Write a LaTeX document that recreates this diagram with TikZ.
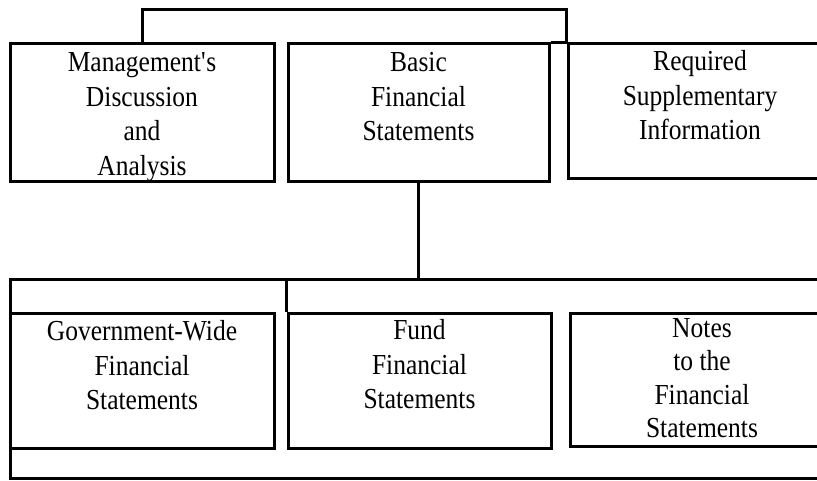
\documentclass[tikz,border=0pt]{standalone}
\usepackage{fontspec}
\setmainfont[FakeStretch=0.88]{Liberation Serif}
\begin{document}
\begin{tikzpicture}[x=1pt,y=-1pt,
    box/.style={draw,line width=3pt,minimum height=138pt,inner sep=0pt},
    lbl/.style={anchor=north,align=center,inner sep=0pt,yshift=-10pt,font=\fontsize{29}{34.5}\selectfont},
    conn/.style={line width=3pt}]
            \def\wbox{264pt}
            \useasboundingbox (0,0) rectangle (817,481);
            % top row
            \node[box,minimum width=\wbox,label={[lbl]north:{Management\textquotesingle s\\Discussion\\and\\Analysis}}] (mda) at (142,113) {};
            \node[box,minimum width=261pt,label={[lbl]north:{Basic\\Financial\\Statements}}] (bfs) at (418.5,113) {};
            \node[box,minimum width=\wbox,minimum height=135pt,label={[lbl,yshift=2pt]north:{Required\\Supplementary\\Information}}] (rsi) at (700,111.5) {};
            \draw[conn] (mda.north) -- ++(0,-33) -| (rsi.north west);
            \draw[conn] (bfs.north east) -- (rsi.north west);
            % bottom row
            \node[box,minimum width=830pt,minimum height=198pt] (frame) at (425,379) {};
            \node[box,minimum width=\wbox,minimum height=135pt,label={[lbl,yshift=1pt]north:{Government-Wide\\Financial\\Statements}}] (gov) at (142,380.5) {};
            \node[box,minimum width=263pt,minimum height=135pt,label={[lbl,yshift=2pt]north:{Fund\\Financial\\Statements}}] (fund) at (419.5,380.5) {};
            \node[box,minimum width=\wbox,minimum height=133pt,label={[lbl,yshift=3pt,font=\fontsize{29}{33.3}\selectfont]north:{Notes\\to the\\Financial\\Statements}}] (notes) at (702,379.5) {};
            \draw[conn] (bfs.south) -- (bfs.south |- frame.north);
            \draw[conn] (fund.north west) -- (fund.north west |- frame.north);
\end{tikzpicture}
\end{document}
